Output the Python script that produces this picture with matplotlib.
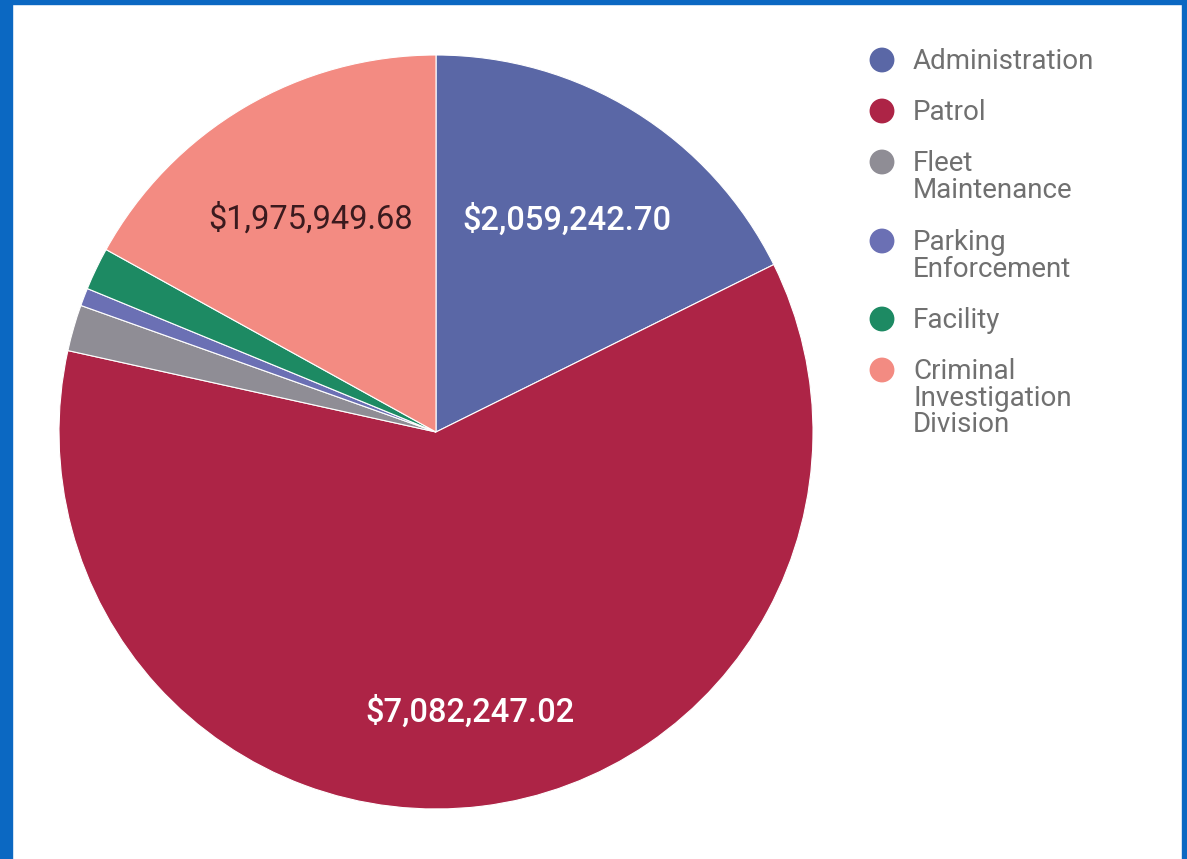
import matplotlib.pyplot as plt
import numpy as np
from matplotlib.patches import Rectangle

## Data
divisions = ["Administration", "Patrol", "Fleet\nMaintenance", "Parking\nEnforcement",
             "Facility", "Criminal\nInvestigation\nDivision"]
budget = [2059242.70, 7082247.02, 231000.00, 89000.00, 213000.00, 1975949.68]
colors = ["#5a67a6", "#ad2446", "#8f8d95", "#6b70b4", "#1d8a63", "#f38b82"]
label_colors = ["white", "white", None, None, None, "#3a1a1e"]
label_weights = ["medium", "medium", None, None, None, "normal"]
label_dist = [0.66, 0.75, 0, 0, 0, 0.655]

plt.rcParams['font.family'] = ['Roboto', 'DejaVu Sans']

W, H = 1187, 859
fig = plt.figure(figsize=(W / 100, H / 100), dpi=100)
fig.patch.set_facecolor("white")

## Pie axes, centre (436, 432) px, radius 377 px
cx, cy, r = 436, 432, 377
ax = fig.add_axes([(cx - r) / W, 1 - (cy + r) / H, 2 * r / W, 2 * r / H])
wedges, _ = ax.pie(budget, colors=colors, startangle=90, counterclock=False,
                   wedgeprops=dict(edgecolor="white", linewidth=0.8))
ax.set_xlim(-1, 1)
ax.set_ylim(-1, 1)
ax.set_aspect("equal")
ax.axis("off")

## Value labels on the big slices
for w, val, c, fw, d in zip(wedges, budget, label_colors, label_weights, label_dist):
    if c is None:
        continue
    ang = np.deg2rad((w.theta1 + w.theta2) / 2)
    ax.text(d * np.cos(ang), d * np.sin(ang), "${:,.2f}".format(val),
            ha="center", va="center", fontsize=23.5, fontweight=fw, color=c)

## Legend drawn by hand so markers line up with the first text line
lax = fig.add_axes([0, 0, 1, 1])
lax.set_xlim(0, W)
lax.set_ylim(H, 0)
lax.axis("off")
entry_y = [60, 111, 162, 241, 319, 370]
for name, col, y in zip(divisions, colors, entry_y):
    lax.scatter([882], [y], s=320, color=col, edgecolors="none")
    lax.text(913, y - 12, name, ha="left", va="top", fontsize=20, color="#707070",
             linespacing=0.98)

## Blue scan border
blue = "#0b68c2"
fig.patches.append(Rectangle((0, 0), 12 / W, 1, transform=fig.transFigure, color=blue, zorder=10))
fig.patches.append(Rectangle((0, 1 - 4 / H), 1, 4 / H, transform=fig.transFigure, color=blue, zorder=10))
fig.patches.append(Rectangle((1 - 5 / W, 0), 5 / W, 1, transform=fig.transFigure, color=blue, zorder=10))

fig.savefig("out.png", dpi=100)
